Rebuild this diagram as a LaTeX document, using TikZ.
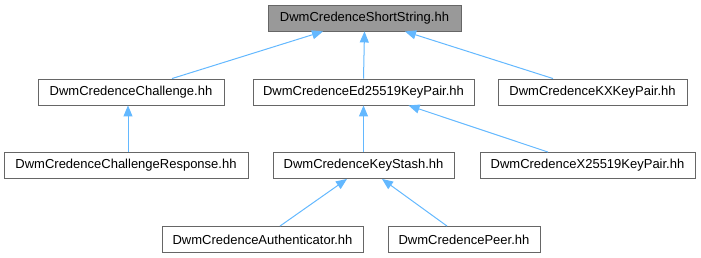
\documentclass[tikz,border=0pt]{standalone}
\usepackage{fontspec}
\setmainfont{Liberation Sans}
\usetikzlibrary{arrows.meta}
\definecolor{edgeblue}{RGB}{99,184,255}
\definecolor{boxgray}{RGB}{102,102,102}
\definecolor{topfill}{RGB}{153,153,153}
\begin{document}
\begin{tikzpicture}[x=1pt,y=-1pt,
  box/.style={draw=boxgray,line width=0.9pt,fill=white,minimum height=26pt,inner sep=0pt,
    font=\fontsize{13}{15}\selectfont,text=black},
  topbox/.style={box,fill=topfill},
  edge/.style={draw=edgeblue,line width=1pt,-{Triangle[length=11pt,width=9pt]}}]
\useasboundingbox (0,0) rectangle (701,257);
\node[topbox,minimum width=193pt] (top) at (364.5,18) {DwmCredenceShortString.hh};
\node[box,minimum width=186pt] (chal) at (131,92) {DwmCredenceChallenge.hh};
\node[box,minimum width=221pt] (ed) at (363.5,92) {DwmCredenceEd25519KeyPair.hh};
\node[box,minimum width=189pt] (kx) at (592.5,92) {DwmCredenceKXKeyPair.hh};
\node[box,minimum width=244pt] (resp) at (126,165.5) {DwmCredenceChallengeResponse.hh};
\node[box,minimum width=181pt] (stash) at (363.5,165.5) {DwmCredenceKeyStash.hh};
\node[box,minimum width=215pt] (x255) at (587.5,165.5) {DwmCredenceX25519KeyPair.hh};
\node[box,minimum width=201pt] (auth) at (262.5,239.5) {DwmCredenceAuthenticator.hh};
\node[box,minimum width=152pt] (peer) at (464,239.5) {DwmCredencePeer.hh};
\draw[edge] ([xshift=41pt]chal.north) -- ([xshift=-41.5pt]top.south);
\draw[edge] (ed.north) -- (top.south);
\draw[edge] ([xshift=-39.5pt]kx.north) -- ([xshift=40.5pt]top.south);
\draw[edge] ([xshift=-3pt]chal.south |- resp.north) -- ([xshift=-3pt]chal.south);
\draw[edge] (stash.north) -- (ed.south);
\draw[edge] ([xshift=-39.5pt]x255.north) -- ([xshift=45pt]ed.south);
\draw[edge] ([xshift=17.5pt]auth.north) -- ([xshift=-16.5pt]stash.south);
\draw[edge] ([xshift=-17pt]peer.north) -- ([xshift=18.5pt]stash.south);
\end{tikzpicture}
\end{document}
